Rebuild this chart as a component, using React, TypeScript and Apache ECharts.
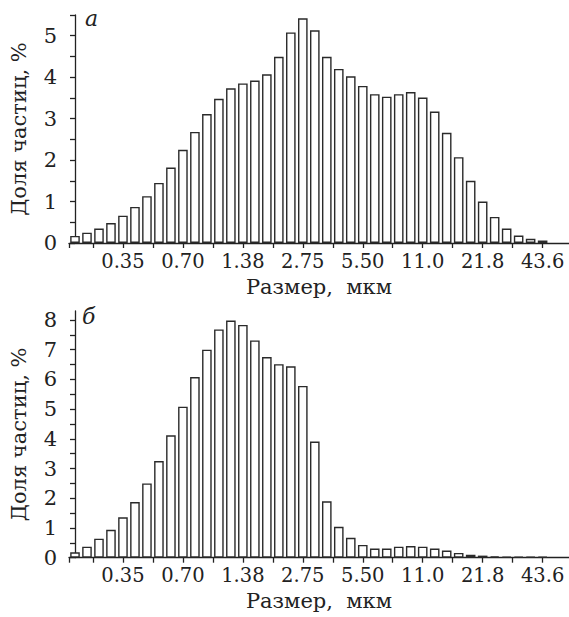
import React, { useEffect, useRef } from "react";
import * as echarts from "echarts";

const sizeLabels = ["0.35", "0.70", "1.38", "2.75", "5.50", "11.0", "21.8", "43.6"];
const labelPositions = [4, 9, 14, 19, 24, 29, 34, 39];
const tickPositions = [-0.5, 1.5, 4, 6.5, 9, 11.5, 14, 16.5, 19, 21.5, 24, 26.5, 29, 31.5, 34, 36.5, 39, 41.5];

const seriesA = [
  0.17, 0.25, 0.35, 0.48, 0.66, 0.87, 1.13, 1.45, 1.82, 2.25,
  2.68, 3.11, 3.48, 3.73, 3.85, 3.92, 4.07, 4.49, 5.08, 5.42,
  5.13, 4.49, 4.2, 4.02, 3.79, 3.59, 3.53, 3.59, 3.64, 3.51,
  3.17, 2.66, 2.07, 1.5, 1.0, 0.63, 0.35, 0.18, 0.1, 0.06,
];
const seriesB = [
  0.18, 0.37, 0.64, 0.94, 1.36, 1.87, 2.5, 3.25, 4.12, 5.08,
  6.08, 7.0, 7.68, 7.98, 7.83, 7.31, 6.75, 6.51, 6.44, 5.78,
  3.91, 1.9, 1.04, 0.67, 0.43, 0.31, 0.31, 0.37, 0.39, 0.37,
  0.31, 0.24, 0.16, 0.1, 0.07, 0.045, 0.03, 0.03, 0.03, 0.03,
];
const yTicksA = [0, 0.5, 1, 1.5, 2, 2.5, 3, 3.5, 4, 4.5, 5, 5.5];
const yLabelsA = [0, 1, 2, 3, 4, 5];
const yTicksB = [0, 0.5, 1, 1.5, 2, 2.5, 3, 3.5, 4, 4.5, 5, 5.5, 6, 6.5, 7, 7.5, 8];
const yLabelsB = [0, 1, 2, 3, 4, 5, 6, 7, 8];

const FONT = "DejaVu Serif";
const INK = "#222";

export default function App() {
  const ref = useRef<HTMLDivElement>(null);
  useEffect(() => {
    if (!ref.current) return;
    const chart = echarts.init(ref.current, null, { renderer: "svg" });
    const xAxis = (gridIndex: number) => ({
      type: "value",
      gridIndex,
      min: -0.5,
      max: 41.2,
      name: "Размер,  мкм",
      nameLocation: "middle",
      nameGap: 33,
      nameTextStyle: { fontFamily: FONT, fontSize: 21, color: INK },
      axisLine: { show: true, onZero: false, lineStyle: { color: INK, width: 1.3 } },
      axisTick: { show: true, inside: false, length: 5, customValues: tickPositions, lineStyle: { color: INK, width: 1.3 } },
      axisLabel: {
        show: true,
        customValues: labelPositions,
        margin: 8,
        fontFamily: FONT,
        fontSize: 19.5,
        color: INK,
        formatter: (v: number) => {
          const i = labelPositions.indexOf(Math.round(v));
          return i >= 0 ? sizeLabels[i] : "";
        },
      },
      splitLine: { show: false },
    });
    const yAxis = (gridIndex: number, max: number, ticks: number[], labels: number[]) => ({
      type: "value",
      gridIndex,
      min: 0,
      max,
      name: "Доля частиц, %",
      nameLocation: "middle",
      nameRotate: 90,
      nameGap: 40,
      nameTextStyle: { fontFamily: FONT, fontSize: 21, color: INK },
      axisLine: { show: true, lineStyle: { color: INK, width: 1.3 } },
      axisTick: { show: true, inside: false, length: 5, customValues: ticks, lineStyle: { color: INK, width: 1.3 } },
      axisLabel: {
        show: true,
        customValues: labels,
        margin: 12,
        fontFamily: FONT,
        fontSize: 21,
        color: INK,
      },
      splitLine: { show: false },
    });
    const barStyle = { color: "#fff", borderColor: "#2a2a2a", borderWidth: 1.4 };
    chart.setOption({
      animation: false,
      backgroundColor: "#fff",
      grid: [
        { left: 65, right: 0, top: 15, height: 228 },
        { left: 65, right: 0, top: 311, height: 246.7 },
      ],
      xAxis: [xAxis(0), xAxis(1)],
      yAxis: [yAxis(0, 5.5, yTicksA, yLabelsA), yAxis(1, 8.3, yTicksB, yLabelsB)],
      series: [
        {
          type: "bar",
          xAxisIndex: 0,
          yAxisIndex: 0,
          barWidth: 9.6,
          data: seriesA.map((v, i) => [i, v]),
          itemStyle: barStyle,
        },
        {
          type: "bar",
          xAxisIndex: 1,
          yAxisIndex: 1,
          barWidth: 9.6,
          data: seriesB.map((v, i) => [i, v]),
          itemStyle: barStyle,
        },
      ],
      graphic: [
        {
          type: "text",
          left: 85,
          top: 7,
          style: { text: "а", fontFamily: FONT, fontStyle: "italic", fontSize: 22, fill: INK },
        },
        {
          type: "text",
          left: 82,
          top: 305,
          style: { text: "б", fontFamily: FONT, fontStyle: "italic", fontSize: 22, fill: INK },
        },
      ],
    });
    return () => chart.dispose();
  }, []);
  return <div ref={ref} style={{ width: 569, height: 617, position: "absolute", left: 0, top: 0 }} />;
}
